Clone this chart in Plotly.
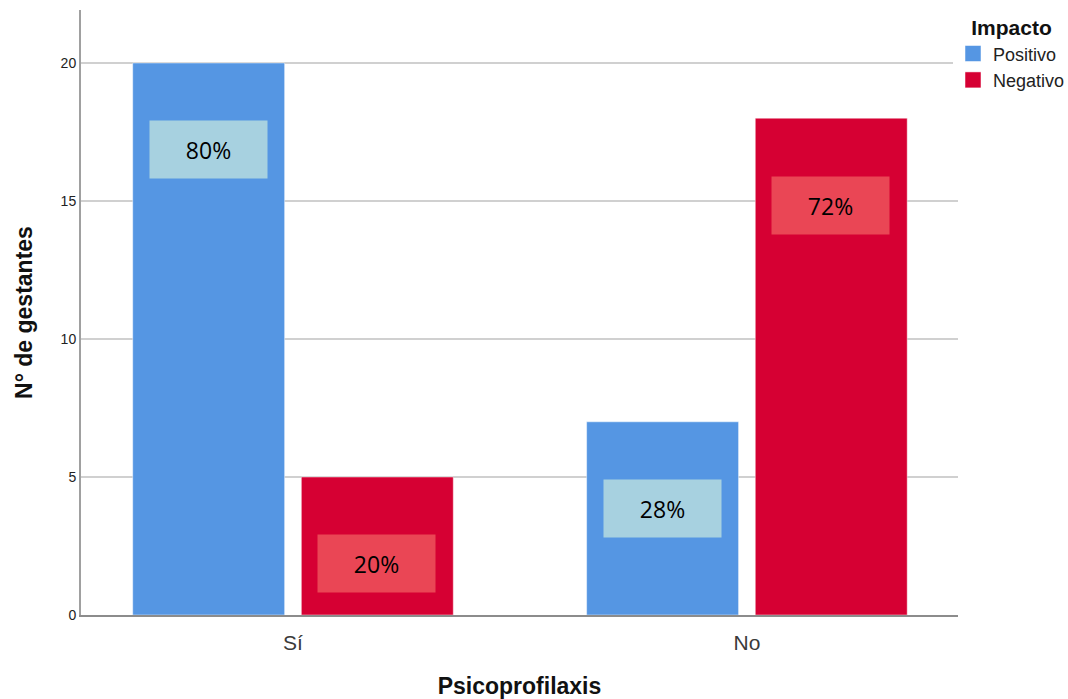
import plotly.graph_objects as go

categories = ["Sí", "No"]
series_names = ["Positivo", "Negativo"]
positivo = [20, 7]
negativo = [5, 18]
pct_positivo = ["80%", "28%"]
pct_negativo = ["20%", "72%"]
y_ticks = [0, 5, 10, 15, 20]

bar_colors = {"Positivo": "#5596E3", "Negativo": "#D60033"}
box_colors = {"Positivo": "#A7D1E0", "Negativo": "#EA4655"}

fig = go.Figure()
for name, vals in zip(series_names, [positivo, negativo]):
    fig.add_trace(go.Bar(
        x=categories, y=vals, name=name, showlegend=False,
        marker=dict(color=bar_colors[name], line=dict(color="rgba(255,255,255,0.45)", width=1)),
        hoverinfo="x+y+name",
    ))
# legend entries with larger square swatches
for name in series_names:
    fig.add_trace(go.Scatter(
        x=[None], y=[None], mode="markers", name=name,
        marker=dict(symbol="square", size=16, color=bar_colors[name],
                    line=dict(color="rgba(255,255,255,0.5)", width=1)),
    ))

label_drop = 3.15
annotations = []
for name, vals, pcts, shift in [("Positivo", positivo, pct_positivo, -84),
                                ("Negativo", negativo, pct_negativo, 84)]:
    for cat, v, p in zip(categories, vals, pcts):
        annotations.append(dict(
            x=cat, y=v - label_drop, xref="x", yref="y", xshift=shift,
            text=p, showarrow=False, bgcolor=box_colors[name],
            width=117, height=57, borderpad=0,
            font=dict(family="Open Sans, Noto Sans, sans-serif", size=23, color="#000000"),
        ))

fig.update_layout(
    width=1068, height=699,
    margin=dict(l=81, r=110, t=10, b=84, autoexpand=False),
    paper_bgcolor="white", plot_bgcolor="white",
    barmode="group", bargap=0.257, bargroupgap=0.099,
    font=dict(family="Liberation Sans, Arial, sans-serif", color="#222222"),
    annotations=annotations,
    legend=dict(
        title=dict(text="<b>Impacto</b>", font=dict(size=21, color="#111111"), side="top center"),
        xref="container", yref="container",
        x=953 / 1068, xanchor="left", y=1 - 8 / 699, yanchor="top",
        font=dict(size=18, color="#222222"),
        itemwidth=30, tracegroupgap=0,
    ),
    xaxis=dict(
        range=[-0.467, 1.465],
        automargin=False,
        showline=True, linecolor="#8c8c8c", linewidth=2,
        ticks="", showgrid=False,
        tickfont=dict(size=21, color="#3a3a3a"),
        ticklabelstandoff=8,
        title=dict(text="<b>Psicoprofilaxis</b>", font=dict(size=23, color="#111111"), standoff=34),
    ),
    yaxis=dict(
        range=[0, 21.92],
        automargin=False,
        tickvals=y_ticks,
        showline=True, linecolor="#a0a0a0", linewidth=2,
        showgrid=True, gridcolor="#d0d0d0", gridwidth=1.5,
        zeroline=False, ticks="",
        tickfont=dict(size=14, color="#222222"),
        title=dict(text="<b>N° de gestantes</b>", font=dict(size=23, color="#111111"), standoff=22),
    ),
)

fig.write_html("out.html")
